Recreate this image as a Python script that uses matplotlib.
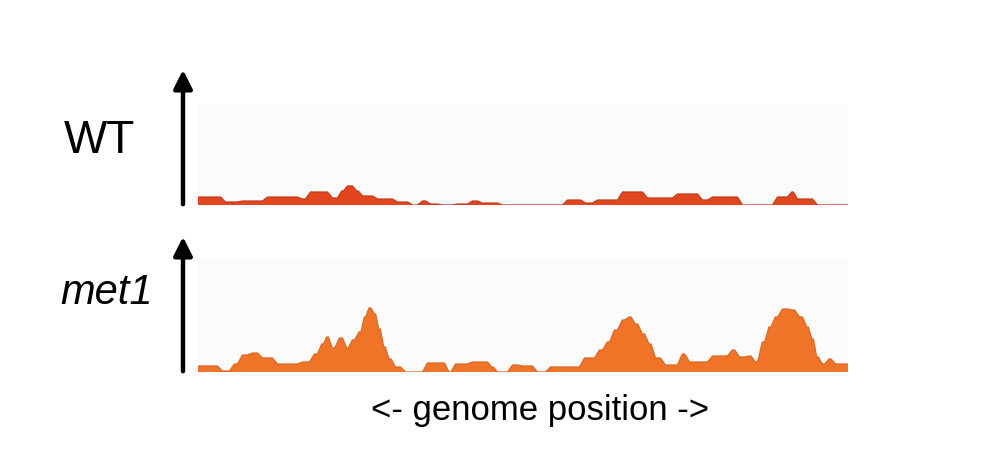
import matplotlib.pyplot as plt
from matplotlib.patches import FancyArrowPatch

# genome position (arbitrary units) step edges and signal heights
wt_edges = [0, 25, 42, 67, 102, 110, 132, 142, 147, 157, 162, 177, 197, 212, 222,
            230, 242, 257, 272, 282, 302, 367, 385, 397, 422, 447, 477, 502, 512,
            542, 577, 592, 597, 617, 650]
wt_vals = [8, 3, 4, 8, 6, 13, 7, 14, 19, 14, 9, 6, 3, 0, 4, 1, 0, 1, 4, 2, 0,
           5, 2, 5, 13, 7, 11, 5, 8, 0, 8, 13, 6, 0]

met1_edges = [0, 22, 34, 42, 52, 62, 77, 102, 114, 122, 127, 132, 139, 147, 152,
              159, 165, 169, 175, 179, 184, 189, 195, 205, 227, 249, 255, 272, 292,
              297, 312, 322, 337, 350, 384, 399, 407, 414, 422, 429, 435, 442, 449,
              455, 465, 482, 489, 512, 532, 539, 549, 555, 562, 569, 575, 582, 592,
              599, 607, 612, 617, 622, 629, 635, 650]
met1_vals = [6, 1, 8, 17, 19, 14, 8, 10, 18, 28, 35, 24, 34, 24, 32, 40, 55, 64,
             58, 43, 25, 13, 5, 0, 9, 0, 8, 10, 5, 0, 7, 6, 0, 5, 14, 22, 30, 42,
             52, 55, 48, 38, 28, 14, 7, 18, 10, 16, 22, 15, 16, 10, 30, 45, 55, 63,
             62, 55, 45, 33, 15, 8, 13, 8]


def profile(edges, vals):
    # trace each segment as a plateau with short ramps between neighbours
    xs, ys = [edges[0]], [vals[0]]
    for i, v in enumerate(vals):
        a, b = edges[i], edges[i + 1]
        r = min(2.5, (b - a) / 3)
        xs += [a + r, b - r]
        ys += [v, v]
    xs.append(edges[-1])
    ys.append(vals[-1])
    return xs, ys


fig = plt.figure(figsize=(10, 4.6), dpi=100)

ax_wt = fig.add_axes([0.198, (460 - 206) / 460, 0.650, 135 / 460])
ax_met = fig.add_axes([0.198, (460 - 373) / 460, 0.650, 135 / 460])

for ax, edges, vals, fc, ec, bg in [
        (ax_wt, wt_edges, wt_vals, '#e2461f', '#c43d1b', 100),
        (ax_met, met1_edges, met1_vals, '#ef7428', '#dd6824', 114)]:
    ax.axhspan(0, bg, color='#fbfbfb', lw=0, zorder=0)
    xs, ys = profile(edges, vals)
    ax.fill_between(xs, 0, ys, facecolor=fc, lw=0, zorder=2)
    ax.plot(xs, ys, color=ec, lw=0.9, zorder=3)
    ax.axhline(0, color='#b8b8b8', lw=1, zorder=1)
    ax.set_xlim(0, 650)
    ax.set_ylim(0, 135)
    ax.axis('off')

# y arrows
for y0, y1 in [(208, 68), (375, 235)]:
    arr = FancyArrowPatch((183 / 1000, 1 - y0 / 460), (183 / 1000, 1 - y1 / 460),
                          transform=fig.transFigure, arrowstyle='-|>',
                          mutation_scale=28, lw=3.2, color='black')
    fig.add_artist(arr)

fig.text(0.099, 1 - 141 / 460, 'WT', fontsize=33, family='Liberation Sans',
         ha='center', va='center')
fig.text(0.107, 1 - 293 / 460, 'met1', fontsize=30, family='Liberation Sans',
         style='italic', ha='center', va='center')
fig.text(0.540, 1 - 411 / 460, '<- genome position ->', fontsize=25,
         family='Liberation Sans', ha='center', va='center')

fig.savefig('out.png', dpi=100)
